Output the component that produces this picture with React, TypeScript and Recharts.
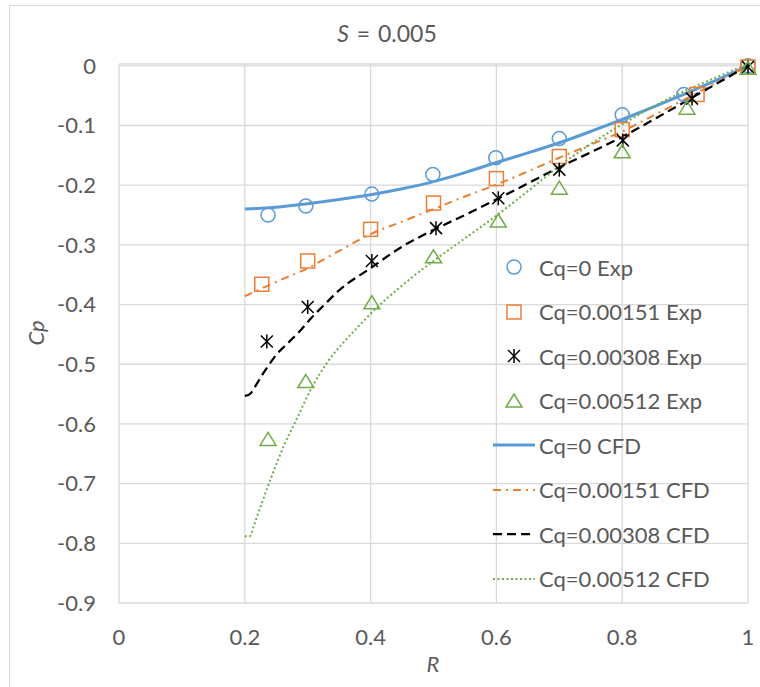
import React from "react"
import { CartesianGrid, ComposedChart, Line, Scatter, XAxis, YAxis } from "recharts"

// experimental points
const expR0 = [0.237, 0.297, 0.402, 0.499, 0.599, 0.7, 0.8, 0.898, 1.0]
const expCp0 = [-0.25, -0.235, -0.215, -0.182, -0.154, -0.122, -0.082, -0.048, 0]
const expR151 = [0.227, 0.3, 0.4, 0.5, 0.6, 0.7, 0.8, 0.919, 1.0]
const expCp151 = [-0.366, -0.327, -0.274, -0.23, -0.189, -0.152, -0.107, -0.048, -0.002]
const expR308 = [0.235, 0.3, 0.402, 0.504, 0.603, 0.7, 0.801, 0.911, 1.0]
const expCp308 = [-0.462, -0.404, -0.327, -0.272, -0.222, -0.174, -0.125, -0.055, -0.002]
const expR512 = [0.237, 0.297, 0.402, 0.5, 0.603, 0.7, 0.8, 0.903, 1.0]
const expCp512 = [-0.626, -0.529, -0.397, -0.32, -0.26, -0.205, -0.144, -0.071, -0.004]

// CFD curves
const cfdR = [0.2, 0.25, 0.3, 0.35, 0.4, 0.45, 0.5, 0.55, 0.6, 0.65, 0.7, 0.75, 0.8, 0.85, 0.9, 0.95, 1.0]
const cfdCp0 = [-0.24, -0.237, -0.231, -0.224, -0.216, -0.206, -0.194, -0.179, -0.162, -0.146, -0.129, -0.11, -0.09, -0.069, -0.047, -0.024, 0]
const cfdCp151 = [-0.386, -0.362, -0.339, -0.31, -0.282, -0.261, -0.24, -0.219, -0.199, -0.177, -0.154, -0.132, -0.11, -0.083, -0.056, -0.028, 0]
const cfdR308 = [0.2, 0.208, 0.219, 0.227, 0.237, 0.251, 0.269, 0.288, 0.306, 0.325, 0.35, 0.4, 0.45, 0.5, 0.55, 0.6, 0.65, 0.7, 0.75, 0.8, 0.85, 0.9, 0.95, 1.0]
const cfdCp308 = [-0.553, -0.55, -0.533, -0.519, -0.503, -0.483, -0.464, -0.444, -0.422, -0.402, -0.376, -0.339, -0.303, -0.275, -0.25, -0.224, -0.197, -0.17, -0.145, -0.119, -0.09, -0.06, -0.03, 0]
const cfdR512 = [0.2, 0.208, 0.214, 0.219, 0.226, 0.234, 0.243, 0.253, 0.264, 0.275, 0.285, 0.306, 0.333, 0.359, 0.375, 0.41, 0.44, 0.47, 0.5, 0.55, 0.6, 0.65, 0.7, 0.75, 0.8, 0.85, 0.9, 0.95, 1.0]
const cfdCp512 = [-0.788, -0.788, -0.772, -0.756, -0.736, -0.712, -0.687, -0.66, -0.632, -0.608, -0.586, -0.54, -0.494, -0.461, -0.443, -0.405, -0.377, -0.351, -0.327, -0.289, -0.251, -0.21, -0.168, -0.131, -0.098, -0.068, -0.042, -0.019, 0.003]

const xTicks = [0, 0.2, 0.4, 0.6, 0.8, 1]
const yTicks = [0, -0.1, -0.2, -0.3, -0.4, -0.5, -0.6, -0.7, -0.8, -0.9]

const BLUE = "#5B9BD5"
const ORANGE = "#ED7D31"
const BLACK = "#000000"
const GREEN = "#70AD47"
const TEXT = "#595959"
const FONT = "Lato, 'Liberation Sans', sans-serif"

const zip = (xs: number[], ys: number[]) => xs.map((x, i) => ({ x, y: ys[i] }))

const CircleMark = ({ cx, cy }: any) => <circle cx={cx} cy={cy} r={7} fill="none" stroke={BLUE} strokeWidth={1.5} />
const SquareMark = ({ cx, cy }: any) => <rect x={cx - 7} y={cy - 7} width={14} height={14} fill="none" stroke={ORANGE} strokeWidth={1.5} />
const StarMark = ({ cx, cy }: any) => (
  <g stroke={BLACK} strokeWidth={1.5}>
    <line x1={cx} y1={cy - 7} x2={cx} y2={cy + 7} />
    <line x1={cx - 6} y1={cy - 6} x2={cx + 6} y2={cy + 6} />
    <line x1={cx - 6} y1={cy + 6} x2={cx + 6} y2={cy - 6} />
  </g>
)
const TriangleMark = ({ cx, cy }: any) => (
  <polygon points={`${cx},${cy - 7} ${cx + 8},${cy + 6} ${cx - 8},${cy + 6}`} fill="none" stroke={GREEN} strokeWidth={1.5} />
)

const legendItems = [
  { label: "Cq=0 Exp", kind: "circle" },
  { label: "Cq=0.00151 Exp", kind: "square" },
  { label: "Cq=0.00308 Exp", kind: "star" },
  { label: "Cq=0.00512 Exp", kind: "triangle" },
  { label: "Cq=0 CFD", kind: "line", color: BLUE, dash: undefined, w: 3 },
  { label: "Cq=0.00151 CFD", kind: "line", color: ORANGE, dash: "8 5 2 5", w: 2 },
  { label: "Cq=0.00308 CFD", kind: "line", color: BLACK, dash: "9 5", w: 2.25 },
  { label: "Cq=0.00512 CFD", kind: "line", color: GREEN, dash: "2 2.5", w: 2 },
]

const LegendIcon = ({ item }: any) => {
  const c = { cx: 24, cy: 12 }
  let mark: any = null
  if (item.kind === "circle") mark = <CircleMark {...c} />
  else if (item.kind === "square") mark = <SquareMark {...c} />
  else if (item.kind === "star") mark = <StarMark {...c} />
  else if (item.kind === "triangle") mark = <TriangleMark {...c} />
  else mark = <line x1={3} y1={12} x2={45} y2={12} stroke={item.color} strokeWidth={item.w} strokeDasharray={item.dash} />
  return (
    <svg width={48} height={24} style={{ display: "block" }}>
      {mark}
    </svg>
  )
}

const App = () => {
  return (
    <div style={{ position: "absolute", left: 0, top: 0, width: 760, height: 687, overflow: "hidden", fontFamily: FONT, background: "#fff" }}>
      <div style={{ position: "absolute", left: 9, top: 5, width: 760, height: 700, borderLeft: "1px solid #d9d9d9", borderTop: "1px solid #d9d9d9" }} />
      <ComposedChart width={760} height={687} margin={{ top: 64, right: 12, bottom: 44, left: 19 }} style={{ fontFamily: FONT }}>
        <CartesianGrid stroke="#d9d9d9" strokeWidth={1.3} />
        <XAxis
          type="number"
          dataKey="x"
          domain={[0, 1]}
          ticks={xTicks}
          height={40}
          axisLine={false}
          tickLine={false}
          tickSize={0}
          tickMargin={26}
          tick={{ fontSize: 22, fill: TEXT, fontFamily: FONT }}
        />
        <YAxis
          type="number"
          dataKey="y"
          domain={[-0.9, 0]}
          ticks={yTicks}
          width={100}
          axisLine={false}
          tickLine={false}
          tickSize={0}
          tickMargin={23}
          tick={{ fontSize: 22, fill: TEXT, fontFamily: FONT }}
        />
        <Scatter data={zip(expR0, expCp0)} dataKey="y" shape={CircleMark} isAnimationActive={false} />
        <Scatter data={zip(expR151, expCp151)} dataKey="y" shape={SquareMark} isAnimationActive={false} />
        <Scatter data={zip(expR308, expCp308)} dataKey="y" shape={StarMark} isAnimationActive={false} />
        <Scatter data={zip(expR512, expCp512)} dataKey="y" shape={TriangleMark} isAnimationActive={false} />
        <Line data={zip(cfdR, cfdCp0)} dataKey="y" type="monotone" stroke={BLUE} strokeWidth={3} dot={false} activeDot={false} isAnimationActive={false} />
        <Line data={zip(cfdR, cfdCp151)} dataKey="y" type="monotone" stroke={ORANGE} strokeWidth={2} strokeDasharray="8 5 2 5" dot={false} activeDot={false} isAnimationActive={false} />
        <Line data={zip(cfdR308, cfdCp308)} dataKey="y" type="monotone" stroke={BLACK} strokeWidth={2.25} strokeDasharray="9 5" dot={false} activeDot={false} isAnimationActive={false} />
        <Line data={zip(cfdR512, cfdCp512)} dataKey="y" type="monotone" stroke={GREEN} strokeWidth={2} strokeDasharray="2 2.5" dot={false} activeDot={false} isAnimationActive={false} />
      </ComposedChart>
      <div style={{ position: "absolute", left: 0, width: 774, top: 19, textAlign: "center", fontSize: 23, wordSpacing: 2, color: TEXT }}>
        <i>S</i> = 0.005
      </div>
      <div style={{ position: "absolute", left: 383, width: 100, top: 650, textAlign: "center", fontSize: 22, color: TEXT, fontStyle: "italic" }}>R</div>
      <div style={{ position: "absolute", left: 35, top: 333, fontSize: 22, color: TEXT, fontStyle: "italic", transform: "translate(-50%, -50%) rotate(-90deg)", whiteSpace: "nowrap" }}>Cp</div>
      <div style={{ position: "absolute", left: 490, top: 245 }}>
        {legendItems.map((item) => (
          <div key={item.label} style={{ display: "flex", alignItems: "center", height: 44.5 }}>
            <LegendIcon item={item} />
            <span style={{ marginLeft: 1, fontSize: 22, color: TEXT, whiteSpace: "nowrap" }}>{item.label}</span>
          </div>
        ))}
      </div>
    </div>
  )
}

export default App
